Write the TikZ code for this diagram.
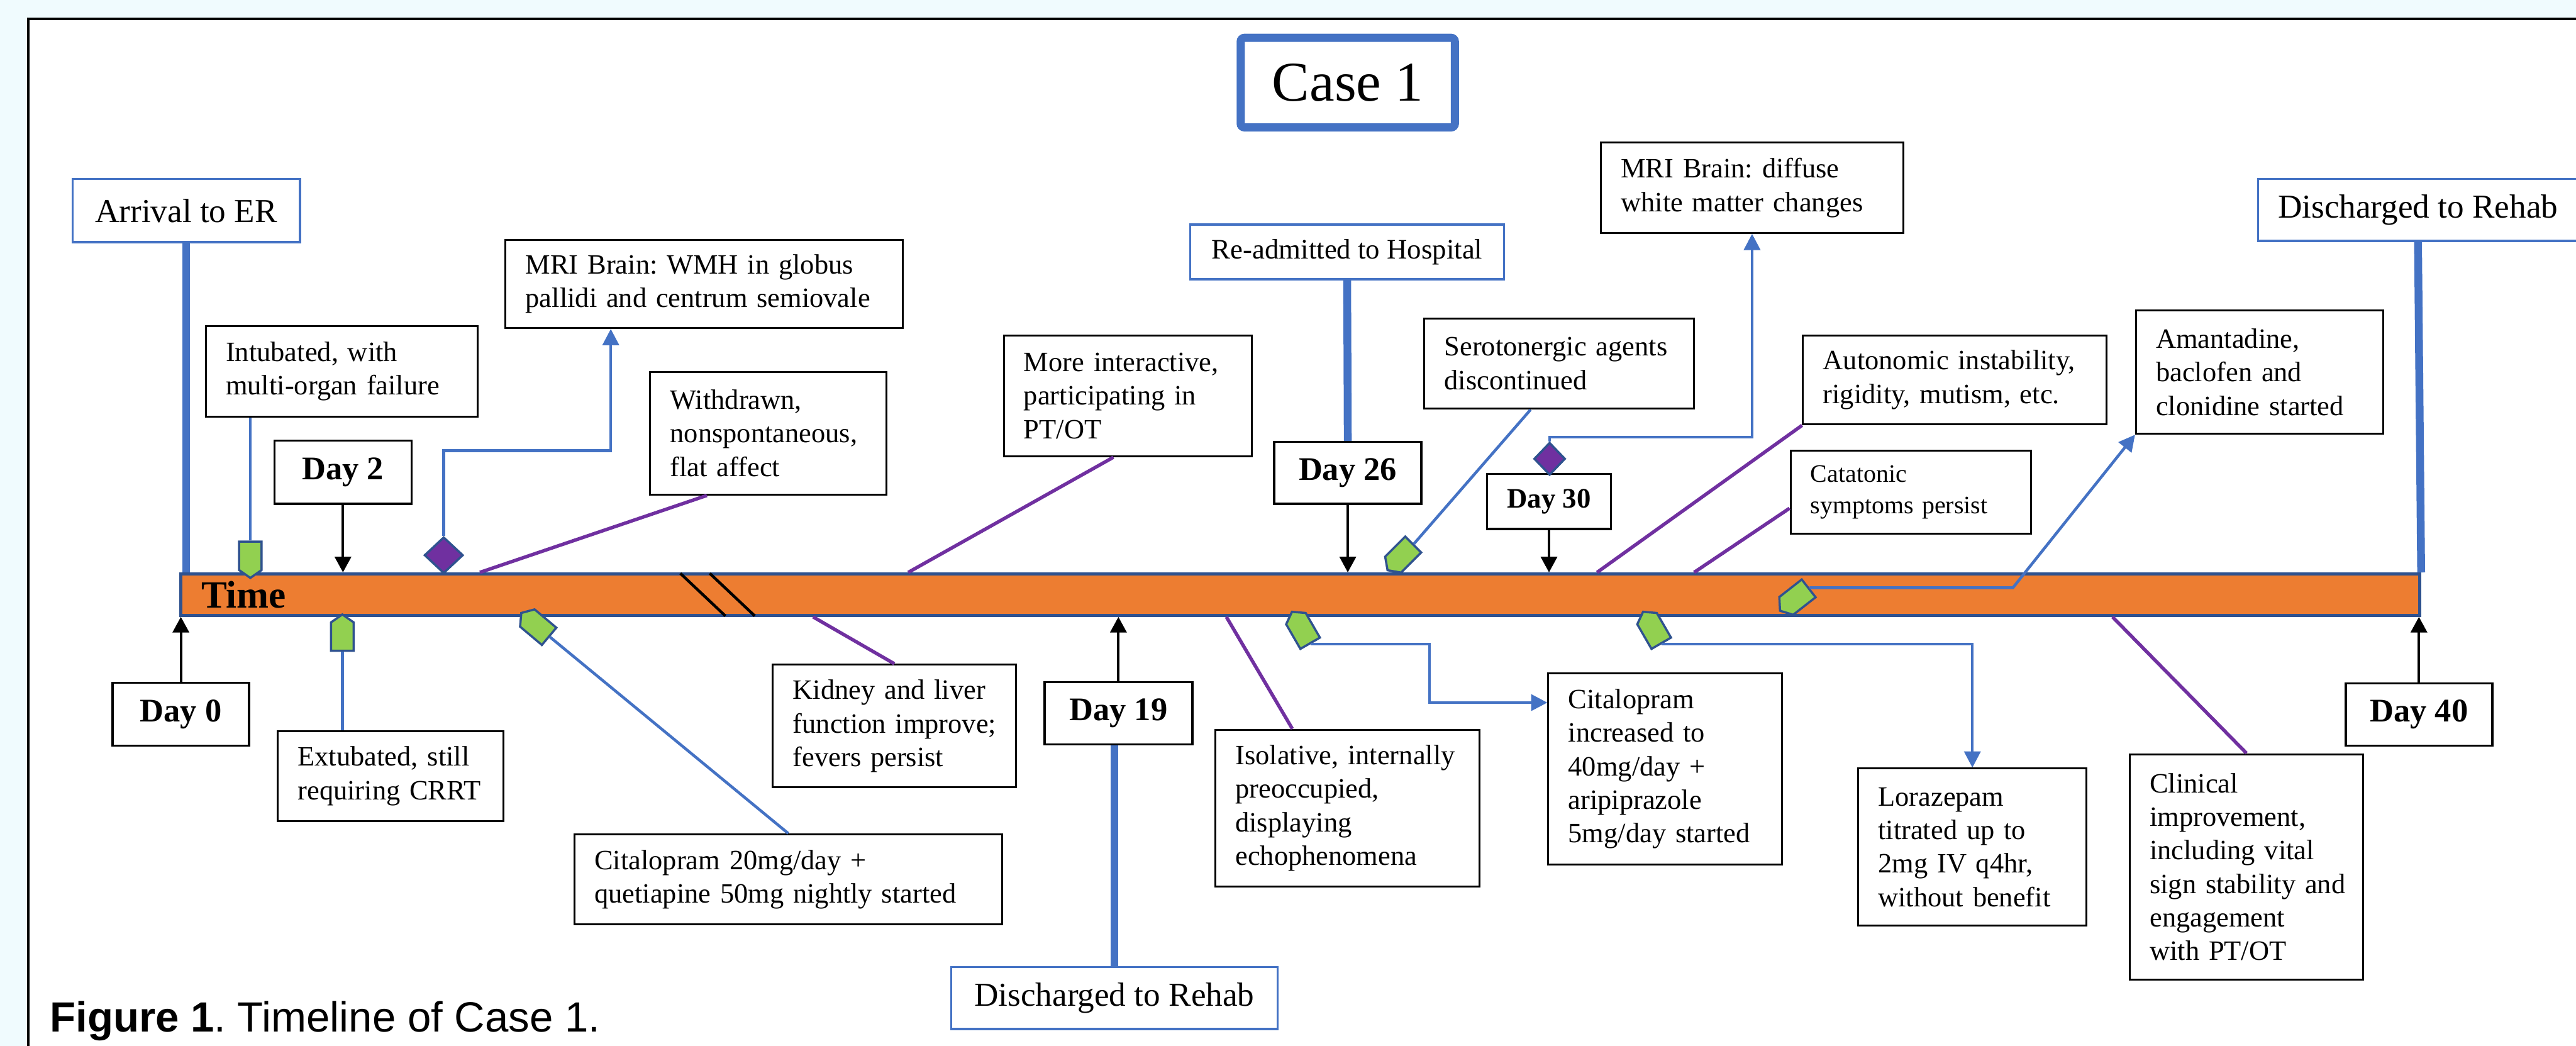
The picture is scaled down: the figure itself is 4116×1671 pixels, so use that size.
\documentclass[tikz,border=0pt]{standalone}
\usepackage{fontspec}
\setmainfont{Liberation Serif}
\newfontfamily\capfont{Liberation Sans}
\usetikzlibrary{arrows.meta,shapes.geometric,shapes.symbols,calc}
\frenchspacing

\definecolor{bgcyan}{RGB}{240,251,254}
\definecolor{boxblue}{RGB}{68,114,196}
\definecolor{barorange}{RGB}{237,125,49}
\definecolor{edgeblue}{RGB}{47,82,143}
\definecolor{taggreen}{RGB}{146,208,80}
\definecolor{evpurple}{RGB}{112,48,160}

\tikzset{
  evt/.style={draw=black, line width=0.3mm, fill=white, inner xsep=3.2mm, inner ysep=0pt,
    font=\fontsize{12.7}{15.24}\selectfont,
    execute at begin node={\parindent=0pt\rightskip=0pt plus 1fil minus 4em\relax}},
  dayl/.style={draw=black, line width=0.35mm, fill=white, inner sep=0pt,
    font=\fontsize{15}{18}\selectfont\bfseries},
  stage/.style={draw=boxblue, line width=0.35mm, fill=white, inner sep=0pt,
    font=\fontsize{15.2}{18}\selectfont},
  tag/.style={signal, signal to=east, signal pointer angle=110, fill=taggreen,
    draw=edgeblue, line width=0.35mm, inner sep=0pt, minimum width=5.8mm, minimum height=3.6mm},
  gem/.style={diamond, fill=evpurple, draw=edgeblue, line width=0.35mm, inner sep=0pt},
  thick link/.style={boxblue, line width=1.25mm},
  link/.style={boxblue, line width=0.45mm},
  link arrow/.style={link, -{Triangle[width=2.6mm,length=2.6mm]}},
  mood/.style={evpurple, line width=0.55mm},
  dayarrow/.style={black, line width=0.4mm, -{Triangle[width=2.6mm,length=2.5mm]}},
}

\begin{document}
\begin{tikzpicture}[x=0.01cm, y=-0.01cm]
\useasboundingbox (0,0) rectangle (4116,1671);
\fill[bgcyan] (0,0) rectangle (4116,1671);
\fill[white] (45,30) rectangle (4116,1671);
\draw[line width=0.35mm] (45,1671) -- (45,30) -- (4116,30);

% title
\node[draw=boxblue, line width=1.3mm, rounded corners=0.6mm, fill=white, inner sep=0pt,
  minimum width=34.2mm, minimum height=14.3mm, font=\fontsize{25.5}{30}\selectfont]
  (title) at (2153.5,132) {Case 1};

% time bar
\node[draw=edgeblue, fill=barorange, line width=0.5mm, inner sep=0pt,
  minimum width=357.5mm, minimum height=6.6mm] (bar) at (2077.5,950) {};
\node[anchor=base west, inner sep=0pt, font=\fontsize{17.5}{20}\selectfont\bfseries]
  (time) at (321,971) {Time};
\draw[line width=0.45mm] (1087,916) -- (1159,984);
\draw[line width=0.45mm] (1134,916) -- (1206,984);

% admission / discharge
\node[stage, minimum width=36.3mm, minimum height=10.1mm] (arrive) at (297.5,336.5) {Arrival to ER};
\node[stage, minimum width=50.1mm, minimum height=8.7mm, font=\fontsize{12.8}{15}\selectfont]
  (readmit) at (2152.5,402.5) {Re-admitted to Hospital};
\node[stage, minimum width=51.1mm, minimum height=9.9mm] (rehabA) at (3863.5,335.5) {Discharged to Rehab};
\node[stage, minimum width=52.1mm, minimum height=9.9mm] (rehabB) at (1780.5,1594.5) {Discharged to Rehab};

% days
\node[dayl, minimum width=21.8mm, minimum height=10mm] (day0) at (289,1141) {Day 0};
\node[dayl, minimum width=21.9mm, minimum height=10.1mm] (day2) at (548,754.5) {Day 2};
\node[dayl, minimum width=23.6mm, minimum height=9.9mm] (day19) at (1787,1139.5) {Day 19};
\node[dayl, minimum width=23.5mm, minimum height=9.9mm] (day26) at (2153.5,755.5) {Day 26};
\node[dayl, minimum width=19.8mm, minimum height=8.8mm, font=\fontsize{12.8}{15}\selectfont\bfseries]
  (day30) at (2475,801) {Day 30};
\node[dayl, minimum width=23.4mm, minimum height=9.9mm] (day40) at (3865,1141.5) {Day 40};

% events above the bar
\node[evt, text width=37.0mm, minimum height=14.5mm] (intub) at (546,593.5) {Intubated, with\\multi-organ failure};
\node[evt, text width=57.0mm, minimum height=14.1mm] (mri1) at (1125,453.5) {MRI Brain: WMH in globus\\pallidi and centrum semiovale};
\node[evt, text width=31.3mm, minimum height=19.6mm] (withdr) at (1227.5,692) {Withdrawn,\\nonspontaneous,\\flat affect};
\node[evt, text width=33.2mm, minimum height=19.3mm] (interact) at (1802,632.5) {More interactive,\\participating in\\PT/OT};
\node[evt, text width=36.6mm, minimum height=14.4mm] (sero) at (2491,581) {Serotonergic agents\\discontinued};
\node[evt, text width=41.9mm, minimum height=14.4mm] (mri2) at (2799.5,300) {MRI Brain: diffuse\\white matter changes};
\node[evt, text width=42.1mm, minimum height=14.2mm] (autonom) at (3123.5,607) {Autonomic instability,\\rigidity, mutism, etc.};
\node[evt, text width=32.0mm, minimum height=13.3mm, font=\fontsize{11.4}{14.2}\selectfont]
  (catat) at (3053,786.5) {Catatonic\\symptoms persist};
\node[evt, text width=33.1mm, minimum height=19.7mm] (amant) at (3610.5,594.5) {Amantadine,\\baclofen and\\clonidine started};

% events below the bar
\node[evt, text width=29.6mm, minimum height=14.4mm] (extub) at (624,1240) {Extubated, still\\requiring CRRT};
\node[evt, text width=61.9mm, minimum height=14.4mm] (cital20) at (1259.5,1405) {Citalopram 20mg/day +\\quetiapine 50mg nightly started};
\node[evt, text width=32.4mm, minimum height=19.6mm] (kidney) at (1429,1160) {Kidney and liver\\function improve;\\fevers persist};
\node[evt, text width=35.8mm, minimum height=25.0mm] (isol) at (2153,1291) {Isolative, internally\\preoccupied,\\displaying\\echophenomena};
\node[evt, text width=30.9mm, minimum height=30.5mm] (cital40) at (2660.5,1228.5) {Citalopram\\increased to\\40mg/day +\\aripiprazole\\5mg/day started};
\node[evt, text width=30.1mm, minimum height=25.1mm] (loraz) at (3151.5,1353.5) {Lorazepam\\titrated up to\\2mg IV q4hr,\\without benefit};
\node[evt, text width=30.9mm, minimum height=36.0mm] (clin) at (3589.5,1385) {Clinical\\improvement,\\including vital\\sign stability and\\engagement\\with PT/OT};

% markers
\node[tag, rotate=-90] (tagA) at (400,888) {};
\node[tag, rotate=90] (tagB) at (547,1017) {};
\node[tag, rotate=140] (tagC) at (860,1002) {};
\node[tag, rotate=225] (tagD) at (2242,886) {};
\node[tag, rotate=120] (tagE) at (2082,1008) {};
\node[tag, rotate=120] (tagF) at (2643,1008) {};
\node[tag, rotate=218] (tagG) at (2872,954) {};
\node[gem, minimum width=6.2mm, minimum height=5.8mm] (gemA) at (709,887) {};
\node[gem, minimum width=5.0mm, minimum height=5.2mm] (gemB) at (2476,733) {};

% stage lines
\draw[thick link] (arrive.south) -- (arrive.south |- bar.north);
\draw[thick link] (readmit.south) -- (day26.north);
\draw[thick link] (rehabA.south) -- (bar.north east);
\draw[thick link] (rehabB.north |- day19.south) -- (rehabB.north);

% day arrows
\draw[dayarrow] (day0.north) -- (day0.north |- bar.south);
\draw[dayarrow] (day2.south) -- (day2.south |- bar.north);
\draw[dayarrow] (day19.north) -- (day19.north |- bar.south);
\draw[dayarrow] (day26.south) -- (day26.south |- bar.north);
\draw[dayarrow] (day30.south) -- (day30.south |- bar.north);
\draw[dayarrow] (day40.north) -- (day40.north |- bar.south);

% treatment links
\draw[link] (tagA.west) -- (tagA.west |- intub.south);
\draw[link] (tagB.west) -- (tagB.west |- extub.north);
\draw[link] (tagC.west) -- (cital20.north);
\draw[link] (tagD.west) -- ($(sero.south west)!0.395!(sero.south east)$);
\draw[link arrow] (tagE.west) -- ++(190,0) |- ($(cital40.west)+(0,-106)$);
\draw[link arrow] (tagF.west) -| (loraz.north);
\draw[link arrow] (tagG.west) -- ++(325,0) -- (amant.south west);
\draw[link arrow] (gemA.north) -- ++(0,-136) -| ([xshift=-14.9mm]mri1.south);
\draw[link arrow] (gemB.north) -- ++(0,-7) -| (mri2.south);

% mental status links
\draw[mood] ([xshift=-9.8mm]withdr.south) -- ([xshift=48mm]bar.north west);
\draw[mood] ([xshift=101.2mm]bar.south west) -- (kidney.north);
\draw[mood] ([xshift=-2.3mm]interact.south) -- ([xshift=116.4mm]bar.north west);
\draw[mood] ([xshift=167.2mm]bar.south west) -- ([xshift=-8.8mm]isol.north);
\draw[mood] (autonom.south west) -- ([xshift=226.4mm]bar.north west);
\draw[mood] ([yshift=-2.55mm]catat.west) -- ([xshift=241.9mm]bar.north west);
\draw[mood] ([xshift=308.7mm]bar.south west) -- (clin.north);

\node[anchor=base west, inner sep=0pt, font=\capfont\fontsize{19.2}{23}\selectfont]
  (caption) at (79,1648) {\textbf{Figure 1}. Timeline of Case 1.};
\end{tikzpicture}
\end{document}
